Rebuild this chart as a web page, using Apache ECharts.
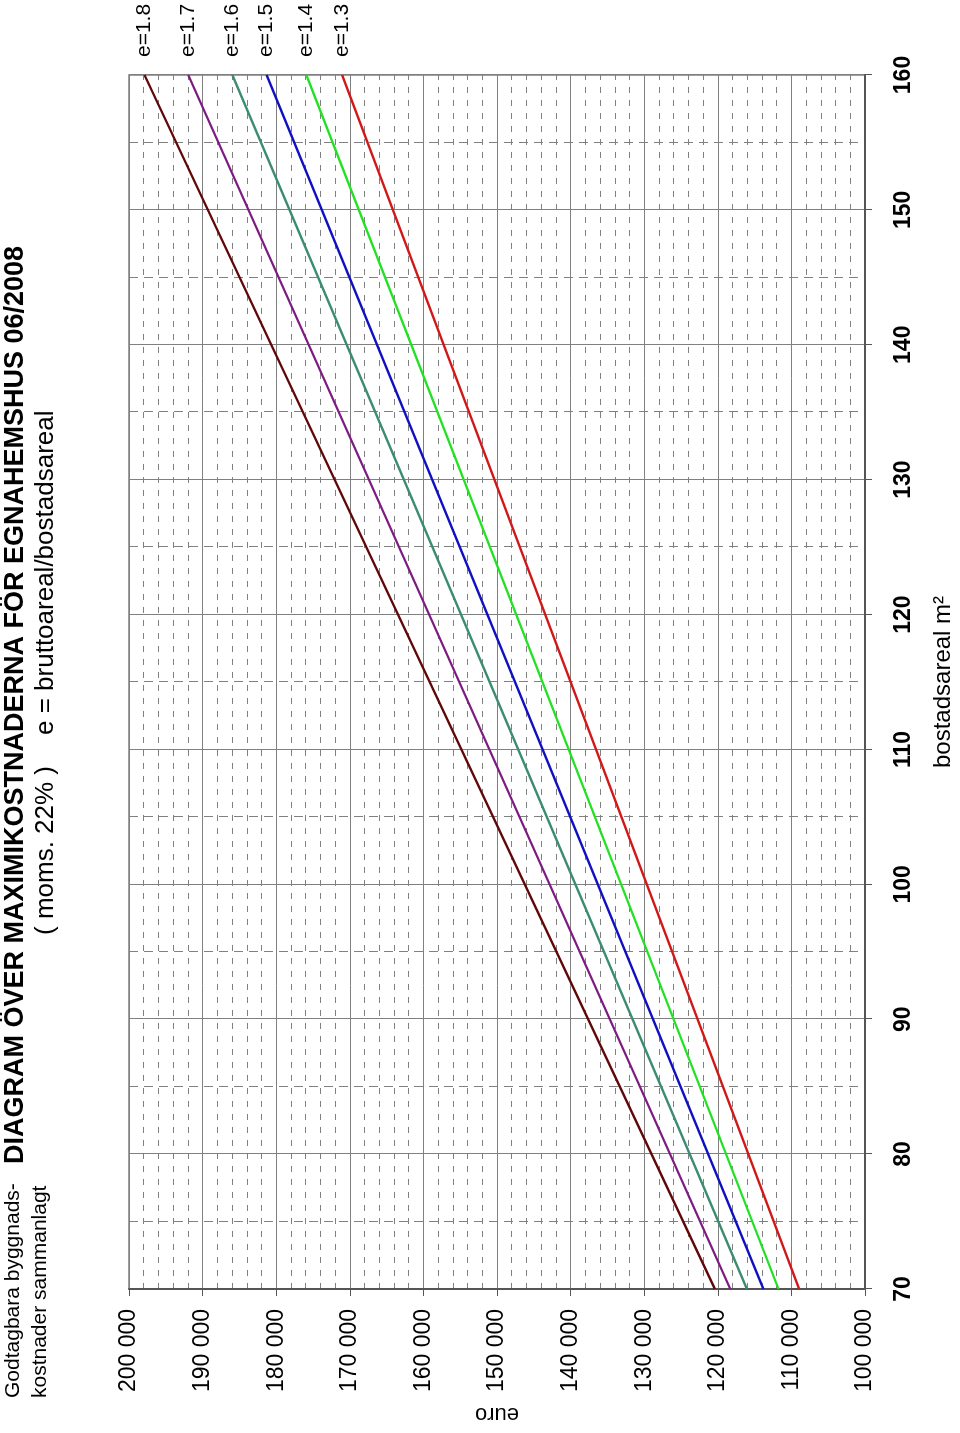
<!DOCTYPE html>
<html>
<head>
<meta charset="utf-8">
<script src="https://cdn.jsdelivr.net/npm/echarts@6/dist/echarts.min.js"></script>
<style>
html,body{margin:0;padding:0;background:#fff;overflow:hidden;}
#wrap{position:relative;width:960px;height:1433px;overflow:hidden;}
#chart{position:absolute;left:0;top:0;width:1433px;height:960px;transform-origin:0 0;transform:translate(0,1433px) rotate(-90deg);}
</style>
</head>
<body>
<div id="wrap"><div id="chart"></div></div>
<script>
// Data (bostadsareal m² -> euro)
const areas = [70, 160];
const e18 = [120400, 197900];
const e17 = [118300, 191950];
const e16 = [116050, 185950];
const e15 = [113800, 181300];
const e14 = [111750, 175900];
const e13 = [108950, 171050];
const seriesNames = ['e=1.8', 'e=1.7', 'e=1.6', 'e=1.5', 'e=1.4', 'e=1.3'];
const seriesValues = [e18, e17, e16, e15, e14, e13];
const seriesColors = ['#600808', '#7d1c80', '#3c8c70', '#1010c0', '#22e022', '#d01818'];

const titleText = 'DIAGRAM ÖVER MAXIMIKOSTNADERNA FÖR EGNAHEMSHUS 06/2008';
const subText1 = '( moms. 22% )';
const subText2 = 'e = bruttoareal/bostadsareal';
const cornerText1 = 'Godtagbara byggnads-';
const cornerText2 = 'kostnader sammanlagt';
const xName = 'bostadsareal m²';
const yName = 'euro';

const FONT = "'Liberation Sans', Arial, sans-serif";
const chart = echarts.init(document.getElementById('chart'), null, {renderer: 'canvas'});

const fmt = v => String(v).replace(/\B(?=(\d{3})+(?!\d))/g, ' ');

const series = seriesNames.map((n, i) => ({
  name: n,
  type: 'line',
  data: areas.map((a, j) => [a, seriesValues[i][j]]),
  showSymbol: false,
  symbol: 'none',
  silent: true,
  lineStyle: {color: seriesColors[i], width: 2.3},
  itemStyle: {color: seriesColors[i]},
  endLabel: {show: true, formatter: n, distance: 18, fontSize: 21, color: '#000', fontFamily: FONT}
}));

chart.setOption({
  animation: false,
  backgroundColor: '#fff',
  textStyle: {fontFamily: FONT},
  grid: {left: 137, right: 75, top: 129, bottom: 94, show: true, borderColor: '#808080', borderWidth: 1.5},
  xAxis: {
    type: 'value', min: 70, max: 160, interval: 10,
    name: xName, nameLocation: 'middle', nameGap: 66,
    nameTextStyle: {fontSize: 24, color: '#000', fontFamily: FONT},
    axisLine: {show: true, lineStyle: {color: '#555', width: 2}},
    axisTick: {show: true, length: 7, lineStyle: {color: '#555'}},
    axisLabel: {fontSize: 23, fontWeight: 'bold', color: '#000', margin: 27, fontFamily: FONT},
    splitLine: {show: true, lineStyle: {color: '#808080', width: 1}},
    minorTick: {show: false, splitNumber: 2},
    minorSplitLine: {show: true, lineStyle: {color: '#808080', width: 1, type: [9, 6]}}
  },
  yAxis: {
    type: 'value', min: 100000, max: 200000, interval: 10000,
    name: yName, nameLocation: 'middle', nameRotate: 90, nameGap: 112,
    nameTextStyle: {fontSize: 22, color: '#000', fontFamily: FONT},
    axisLine: {show: true, lineStyle: {color: '#555', width: 2}},
    axisTick: {show: true, length: 7, lineStyle: {color: '#555'}},
    axisLabel: {fontSize: 23, color: '#000', margin: 20, formatter: fmt, fontFamily: FONT},
    splitLine: {show: true, lineStyle: {color: '#808080', width: 1}},
    minorTick: {show: false, splitNumber: 5},
    minorSplitLine: {show: true, lineStyle: {color: '#808080', width: 1, type: [6, 7]}}
  },
  graphic: [
    {type: 'text', x: 728, y: 15.5, style: {text: titleText, font: "bold 27px " + FONT, fill: '#000', textAlign: 'center', textVerticalAlign: 'middle'}},
    {type: 'text', x: 498, y: 46, style: {text: subText1, font: "26px " + FONT, fill: '#000', textAlign: 'left', textVerticalAlign: 'middle'}},
    {type: 'text', x: 698, y: 46, style: {text: subText2, font: "26px " + FONT, fill: '#000', textAlign: 'left', textVerticalAlign: 'middle'}},
    {type: 'text', x: 35, y: 13, style: {text: cornerText1, font: "21px " + FONT, fill: '#000', textAlign: 'left', textVerticalAlign: 'middle'}},
    {type: 'text', x: 35, y: 40, style: {text: cornerText2, font: "21px " + FONT, fill: '#000', textAlign: 'left', textVerticalAlign: 'middle'}}
  ],
  series: series
});
</script>
</body>
</html>
